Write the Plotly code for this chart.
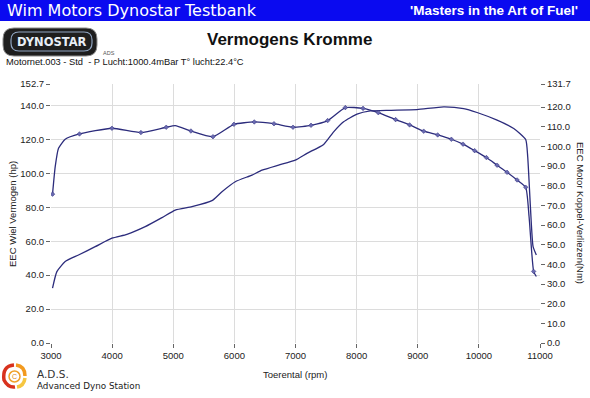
import plotly.graph_objects as go

# ---------------- data ----------------
power_rpm = [3025, 3096, 3232, 3450, 3723, 3997, 4242, 4542, 4815, 5033, 5306, 5633,
             5797, 6015, 6288, 6452, 6724, 6997, 7188, 7460, 7624, 7787, 8006, 8224,
             8551, 8988, 9424, 9751, 9970, 10298, 10570, 10766, 10799, 10843, 10887, 10940]
power_hp = [32.4, 42.1, 48.0, 51.9, 56.8, 61.8, 64.1, 68.6, 73.9, 78.4, 80.4, 83.9,
            89.2, 95.1, 99.0, 101.9, 104.9, 107.8, 111.8, 117.1, 124.5, 130.4, 134.9, 136.8,
            137.2, 137.6, 139.2, 138.2, 135.9, 131.4, 126.5, 120.0, 109.8, 80.4, 56.8, 51.9]

torque_rpm = [3025, 3069, 3123, 3232, 3466, 3997, 4471, 4885, 5033, 5289, 5650, 5993,
              6326, 6648, 6959, 7254, 7526, 7815, 8105, 8355, 8638, 8867, 9097, 9326,
              9550, 9741, 9931, 10123, 10298, 10461, 10625, 10766, 10821, 10896, 10940]
torque_nm = [75.7, 89.7, 99.0, 103.6, 106.3, 109.2, 107.0, 109.7, 110.5, 107.8, 104.9, 111.2,
             112.4, 111.5, 109.7, 110.7, 113.1, 119.7, 119.3, 117.1, 113.6, 110.9, 107.7, 105.8,
             103.6, 101.1, 97.8, 94.3, 90.4, 86.8, 82.9, 79.2, 64.3, 36.4, 33.8]

torque_marker_rpm = [3025, 3466, 3997, 4471, 4885, 5289, 5650, 5993, 6326, 6648, 6959, 7254,
                     7526, 7815, 8105, 8355, 8638, 8867, 9097, 9326, 9550, 9741, 9931, 10123,
                     10298, 10461, 10625, 10766, 10896]
torque_marker_nm = [75.7, 106.3, 109.2, 107.0, 109.7, 107.8, 104.9, 111.2, 112.4, 111.5, 109.7, 110.7,
                    113.1, 119.7, 119.3, 117.1, 113.6, 110.9, 107.7, 105.8, 103.6, 101.1, 97.8, 94.3,
                    90.4, 86.8, 82.9, 79.2, 36.4]

x_ticks = [3000, 4000, 5000, 6000, 7000, 8000, 9000, 10000, 11000]
left_ticks = [0, 20, 40, 60, 80, 100, 120, 140, 152.7]
right_ticks = [0, 10, 20, 30, 40, 50, 60, 70, 80, 90, 100, 110, 120, 131.7]

header_left = "Wim Motors Dynostar Testbank"
header_right = "'Masters in the Art of Fuel'"
title_text = "Vermogens Kromme"
subtitle_text = "Motornet.003 - Std \u00a0- P Lucht:1000.4mBar T\u00b0 lucht:22.4\u00b0C"
x_title = "Toerental (rpm)"
left_title = "EEC Wiel Vermogen (hp)"
right_title = "EEC Motor Koppel-Verliezen(Nm)"

# ---------------- layout geometry ----------------
W, H = 590, 398
ML, MR, MT, MB = 51, 50, 84, 55
PW, PH = W - ML - MR, H - MT - MB


def px(x):
    return (x - ML) / PW


def py(y):
    return (H - MB - y) / PH


def rr(x0, y0, x1, y1, r):
    X, Y = px, py
    return (f"M {X(x0+r)},{Y(y0)} L {X(x1-r)},{Y(y0)} Q {X(x1)},{Y(y0)} {X(x1)},{Y(y0+r)} "
            f"L {X(x1)},{Y(y1-r)} Q {X(x1)},{Y(y1)} {X(x1-r)},{Y(y1)} "
            f"L {X(x0+r)},{Y(y1)} Q {X(x0)},{Y(y1)} {X(x0)},{Y(y1-r)} "
            f"L {X(x0)},{Y(y0+r)} Q {X(x0)},{Y(y0)} {X(x0+r)},{Y(y0)} Z")


LINE = "#2c2c7c"
MARK = "#6a6ab0"

fig = go.Figure()
fig.add_trace(go.Scatter(x=power_rpm, y=power_hp, mode="lines",
                         line=dict(color=LINE, width=1.3, shape="spline", smoothing=0.5),
                         yaxis="y", hoverinfo="skip"))
fig.add_trace(go.Scatter(x=torque_rpm, y=torque_nm, mode="lines",
                         line=dict(color=LINE, width=1.3, shape="spline", smoothing=0.5),
                         yaxis="y2", hoverinfo="skip"))
fig.add_trace(go.Scatter(x=torque_marker_rpm, y=torque_marker_nm, mode="markers",
                         marker=dict(color=MARK, size=3.5, symbol="diamond",
                                     line=dict(color=LINE, width=0.5)),
                         yaxis="y2", hoverinfo="skip"))

tickfont = dict(family="Liberation Sans, Arial, sans-serif", size=9.5, color="#222")

shapes = [
    # header bar
    dict(type="rect", xref="paper", yref="paper", x0=px(0), x1=px(W), y0=py(21), y1=py(0),
         fillcolor="#0a0af0", line=dict(width=0), layer="above"),
    # Dynostar logo
    dict(type="path", xref="paper", yref="paper", path=rr(3, 28, 97, 56, 11),
         fillcolor="#1e1e1e", line=dict(color="#8a8a8a", width=1), layer="above"),
    dict(type="path", xref="paper", yref="paper", path=rr(11, 32, 92, 51, 8),
         fillcolor="#1e1e1e", line=dict(color="#8fa4c0", width=1.2), layer="above"),
    # ADS icon
    dict(type="path", xref="paper", yref="paper",
         path=f"M {px(14)},{py(365)} Q {px(2)},{py(366)} {px(4)},{py(380)} Q {px(8)},{py(388)} {px(15)},{py(387)}",
         line=dict(color="#d8321e", width=3.5), layer="above"),
    dict(type="path", xref="paper", yref="paper",
         path=f"M {px(16)},{py(365)} Q {px(25)},{py(366)} {px(25)},{py(376)}",
         line=dict(color="#f29a1f", width=3.5), layer="above"),
    dict(type="path", xref="paper", yref="paper",
         path=f"M {px(25)},{py(378)} Q {px(24)},{py(386)} {px(17)},{py(387)}",
         line=dict(color="#f6c640", width=3.5), layer="above"),
    dict(type="circle", xref="paper", yref="paper", x0=px(9), x1=px(20), y0=py(382), y1=py(371),
         fillcolor="white", line=dict(color="#f0a028", width=1.5), layer="above"),
]

ann_font = "Liberation Sans, Arial, sans-serif"
annotations = [
    dict(text=header_left, x=px(5), y=py(11), xref="paper", yref="paper",
         xanchor="left", yanchor="middle", showarrow=False,
         font=dict(family="DejaVu Sans, sans-serif", size=16, color="white")),
    dict(text=f"<b>{header_right}</b>", x=px(580), y=py(11), xref="paper", yref="paper",
         xanchor="right", yanchor="middle", showarrow=False,
         font=dict(family=ann_font, size=13.5, color="white")),
    dict(text="<b>DYNOSTAR</b>", x=px(52), y=py(42), xref="paper", yref="paper",
         xanchor="center", yanchor="middle", showarrow=False,
         font=dict(family="DejaVu Sans, sans-serif", size=11.5, color="#e8eef6")),
    dict(text="ADS", x=px(101), y=py(53), xref="paper", yref="paper",
         xanchor="left", yanchor="middle", showarrow=False,
         font=dict(family=ann_font, size=5.5, color="#555")),
    dict(text=f"<b>{title_text}</b>", x=px(289), y=py(40), xref="paper", yref="paper",
         xanchor="center", yanchor="middle", showarrow=False,
         font=dict(family=ann_font, size=17, color="#111")),
    dict(text=subtitle_text, x=px(4), y=py(62), xref="paper", yref="paper",
         xanchor="left", yanchor="middle", showarrow=False,
         font=dict(family=ann_font, size=9.3, color="#111")),
    dict(text=x_title, x=px(295), y=py(374), xref="paper", yref="paper",
         xanchor="center", yanchor="middle", showarrow=False,
         font=dict(family=ann_font, size=9.5, color="#222")),
    dict(text=left_title, x=px(12), y=py(214), xref="paper", yref="paper",
         xanchor="center", yanchor="middle", showarrow=False, textangle=-90,
         font=dict(family=ann_font, size=9.5, color="#222")),
    dict(text=right_title, x=px(581), y=py(213), xref="paper", yref="paper",
         xanchor="center", yanchor="middle", showarrow=False, textangle=90,
         font=dict(family=ann_font, size=9.5, color="#222")),
    dict(text="C", x=px(14.5), y=py(376.5), xref="paper", yref="paper",
         xanchor="center", yanchor="middle", showarrow=False,
         font=dict(family=ann_font, size=7, color="#e08a20")),
    dict(text="A.D.S.", x=px(35), y=py(374), xref="paper", yref="paper",
         xanchor="left", yanchor="middle", showarrow=False,
         font=dict(family="DejaVu Sans, sans-serif", size=10.5, color="#333")),
    dict(text="Advanced Dyno Station", x=px(35), y=py(386), xref="paper", yref="paper",
         xanchor="left", yanchor="middle", showarrow=False,
         font=dict(family="DejaVu Sans, sans-serif", size=8.8, color="#222")),
]

fig.update_layout(
    width=W, height=H, autosize=False,
    margin=dict(l=ML, r=MR, t=MT, b=MB, pad=0),
    paper_bgcolor="white", plot_bgcolor="white",
    showlegend=False,
    xaxis=dict(range=[3000, 11000], tickvals=x_ticks, ticktext=[str(v) for v in x_ticks],
               showgrid=True, gridcolor="#dcdcdc", gridwidth=1, zeroline=False,
               ticks="outside", ticklen=4, tickcolor="#666", tickfont=tickfont,
               showline=False, fixedrange=True),
    yaxis=dict(range=[0, 152.7], tickvals=left_ticks, ticktext=[f"{v:.1f}" for v in left_ticks],
               showgrid=True, gridcolor="#dcdcdc", gridwidth=1, zeroline=False,
               ticks="outside", ticklen=4, tickcolor="#666", tickfont=tickfont,
               showline=False, fixedrange=True),
    yaxis2=dict(range=[0, 131.7], tickvals=right_ticks, ticktext=[f"{v:.1f}" for v in right_ticks],
                overlaying="y", side="right", showgrid=False, zeroline=False,
                ticks="outside", ticklen=4, tickcolor="#666", tickfont=tickfont,
                showline=False, fixedrange=True),
    shapes=shapes,
    annotations=annotations,
)

fig.write_html("out.html", config={"displayModeBar": False},
               post_script="document.body.style.margin='0';document.body.style.overflow='hidden';")
